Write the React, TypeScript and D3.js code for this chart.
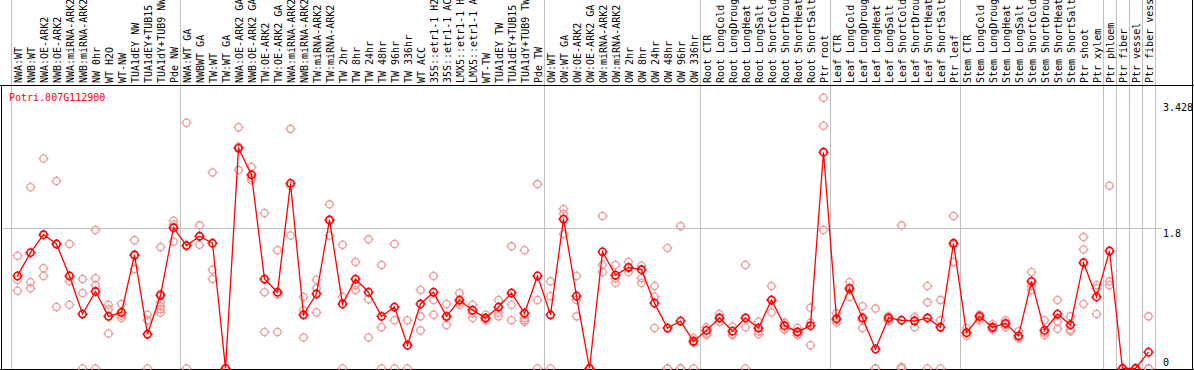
import React from "react";
import * as d3 from "d3";

const categories: string[] = [
  "NWA:WT", "NWB:WT", "NWA:OE-ARK2", "NWB:OE-ARK2", "NWA:miRNA-ARK2", "NWB:miRNA-ARK2", "NW 0hr", "WT H2O", "WT-NW", "TUA1dEY NW", "TUA1dEY+TUB15", "TUA1dY+TUB9 NW", "Pde NW",
  "NWA:WT GA", "NWBWT GA", "TW:WT", "TW:WT GA", "NWA:OE-ARK2 GA", "NWB:OE-ARK2 GA", "TW:OE-ARK2", "TW:OE-ARK2 GA", "NWA:miRNA-ARK2", "NWB:miRNA-ARK2", "TW:miRNA-ARK2", "TW:miRNA-ARK2", "TW 2hr", "TW 8hr", "TW 24hr", "TW 48hr", "TW 96hr", "TW 336hr", "WT ACC", "35S::etr1-1 H2", "35S::etr1-1 AC", "LMX5::etr1-1 H", "LMX5::etr1-1 A", "WT-TW", "TUA1dEY TW", "TUA1dEY+TUB15", "TUA1dY+TUB9 TW", "Pde TW",
  "OW:WT", "OW:WT GA", "OW:OE-ARK2", "OW:OE-ARK2 GA", "OW:miRNA-ARK2", "OW:miRNA-ARK2", "OW 2hr", "OW 8hr", "OW 24hr", "OW 48hr", "OW 96hr", "OW 336hr",
  "Root CTR", "Root LongCold", "Root LongDroug", "Root LongHeat", "Root LongSalt", "Root ShortCold", "Root ShortDrou", "Root ShortHeat", "Root ShortSalt", "Ptr root",
  "Leaf CTR", "Leaf LongCold", "Leaf LongDroug", "Leaf LongHeat", "Leaf LongSalt", "Leaf ShortCold", "Leaf ShortDrou", "Leaf ShortHeat", "Leaf ShortSalt", "Ptr leaf",
  "Stem CTR", "Stem LongCold", "Stem LongDroug", "Stem LongHeat", "Stem LongSalt", "Stem ShortCold", "Stem ShortDrou", "Stem ShortHeat", "Stem ShortSalt", "Ptr shoot", "Ptr xylem", "Ptr phloem", "Ptr fiber", "Ptr vessel", "Ptr fiber vess",
];

// index after which a group separator is drawn (count of categories before it)
const separatorsAfter: number[] = [0, 13, 41, 53, 63, 73, 84, 85, 86, 87, 88];

const means: number[] = [
  1.19, 1.49, 1.72, 1.60, 1.19, 0.70, 0.99, 0.67, 0.72, 1.46, 0.44, 0.94, 1.81,
  1.58, 1.70, 1.61, 0.0, 2.83, 2.49, 1.15, 0.98, 2.38, 0.69, 0.96, 1.91, 0.83, 1.15, 0.98, 0.67, 0.79, 0.30, 0.83, 0.98, 0.67, 0.88, 0.75, 0.65, 0.79, 0.97, 0.71, 1.19,
  0.69, 1.92, 0.93, 0.0, 1.50, 1.20, 1.30, 1.27, 0.84, 0.52, 0.61, 0.35,
  0.49, 0.65, 0.48, 0.65, 0.52, 0.88, 0.55, 0.47, 0.55, 2.78,
  0.64, 1.03, 0.65, 0.25, 0.65, 0.62, 0.61, 0.65, 0.53, 1.61,
  0.46, 0.67, 0.53, 0.58, 0.42, 1.12, 0.49, 0.70, 0.56, 1.36, 0.92, 1.51, 0.0, 0.0, 0.21,
];

const replicates: number[][] = [
  [1.45, 1.14, 1.0], [2.33, 1.11, 1.03], [2.7, 1.29, 1.19], [2.41, 0.79, 1.6], [1.6, 1.12, 0.82], [1.15, 0.97, 0.0], [1.78, 1.16, 1.07, 0.0], [0.82, 0.76, 0.45], [0.83, 0.65, 0.68], [1.65, 1.45, 1.28], [0.69, 0.62, 0.0], [1.56, 0.96, 0.85, 0.8, 0.76, 0.72], [1.9, 1.85, 1.63],
  [3.16, 0.0, 1.58], [1.84, 1.59, 1.7], [2.52, 1.27, 1.15], [0.0, 0.0, 0.0], [3.1, 2.85, 2.55], [2.59, 2.45, 2.42], [2.0, 0.98, 0.47], [1.52, 0.95, 0.47], [3.08, 1.71, 2.35], [0.92, 0.75, 0.4], [1.03, 1.14, 0.72], [2.11, 1.71, 1.9], [1.59, 0.92, 0.0], [1.37, 1.07, 1.01], [1.66, 0.89, 0.4], [1.33, 0.53, 0.0], [1.6, 0.62, 0.0], [0.62, 0.0, 0.3], [1.01, 0.67, 0.49], [1.19, 0.88, 0.69], [0.83, 0.56, 0.65], [0.97, 0.82, 0.85], [0.82, 0.71, 0.65], [0.69, 0.62, 0.64], [0.88, 0.72, 0.67], [1.57, 0.82, 0.62], [1.52, 0.65, 0.6, 0.71, 0.62], [2.37, 0.88, 0.0],
  [1.12, 0.93, 0.0], [2.05, 1.99, 1.73], [1.19, 0.67, 0.88], [0.0, 0.0, 0.0], [1.96, 1.33, 1.24], [1.33, 1.1, 1.16], [1.37, 1.24, 1.29], [1.32, 1.16, 1.1], [1.06, 0.92, 0.52], [1.55, 0.0, 0.0], [1.83, 0.0, 0.0], [0.39, 0.33, 0.0],
  [0.53, 0.45, 0.43], [0.7, 0.6, 0.65], [0.54, 0.44, 0.43], [1.33, 0.53, 0.0], [0.6, 0.48, 0.44], [1.06, 0.72, 0.88], [0.59, 0.5, 0.51], [0.52, 0.43, 0.44], [0.78, 0.59, 0.3], [3.48, 3.12, 1.78],
  [0.71, 0.59, 0.62], [1.11, 0.92, 1.01], [0.8, 0.62, 0.52], [0.77, 0.0, 0.0], [0.67, 0.62, 0.61], [1.84, 0.02, 0.0], [0.66, 0.53, 0.62], [1.06, 0.85, 0.0], [0.88, 0.62, 0.0], [1.96, 1.37, 1.59],
  [0.52, 0.42, 0.46], [0.69, 0.65, 0.62], [0.57, 0.5, 0.51], [0.62, 0.56, 0.53], [0.48, 0.39, 0.39], [1.24, 1.06, 1.01], [0.62, 0.46, 0.43], [0.88, 0.6, 0.51], [0.67, 0.5, 0.48], [1.69, 1.53, 0.83], [1.07, 1.03, 0.7], [2.35, 1.12, 1.07], [0.0, 0.0, 0.0], [0.0, 0.0, 0.0], [0.67, 0.0, 0.0],
];

const yTicks: number[] = [0, 1.8, 3.428];
const yTickLabels: string[] = ["0", "1.8", "3.428"];
const geneId = "Potri.007G112900";

const W = 1194;
const H = 370;
const FONT = "'DejaVu Sans Mono', 'Liberation Mono', monospace";

function Marker({ cx, cy, color, sw }: { cx: number; cy: number; color: string; sw: number }) {
  const r = 3.6;
  const t = 1.4;
  return (
    <g stroke={color} strokeWidth={sw} fill="none">
      <circle cx={cx} cy={cy} r={r} />
      <line x1={cx} y1={cy - r} x2={cx} y2={cy - r - t} />
      <line x1={cx} y1={cy + r} x2={cx} y2={cy + r + t} />
      <line x1={cx - r} y1={cy} x2={cx - r - t} y2={cy} />
      <line x1={cx + r} y1={cy} x2={cx + r + t} y2={cy} />
    </g>
  );
}

export default function App() {
  const left = 11;
  const right = 1155;
  const x = d3
    .scaleBand<number>()
    .domain(categories.map((_, i) => i))
    .range([left, right])
    .paddingInner(0)
    .paddingOuter(0);
  const bw = x.bandwidth();
  const cx = (i: number) => (x(i) as number) + bw / 2;
  const y = d3.scaleLinear().domain([0, 3.428]).range([368.5, 101.8]);
  const sepX = (k: number) => left + k * x.step();

  const line = d3
    .line<number>()
    .x((_, i) => cx(i))
    .y((d) => y(d));

  return (
    <div style={{ position: "absolute", left: 0, top: 0, width: W, height: H, background: "#fff" }}>
      <svg width={W} height={H} style={{ display: "block" }} fontFamily={FONT}>
        <rect x={0} y={0} width={W} height={H} fill="#fff" />
        {/* separators */}
        {separatorsAfter.map((k) => (
          <line key={"s" + k} x1={sepX(k) + 0.5} x2={sepX(k) + 0.5} y1={0} y2={H} stroke="#c0c0c0" strokeWidth={1} />
        ))}
        {/* gridline at 1.8 */}
        <line x1={1} x2={1162} y1={Math.round(y(1.8)) + 0.5} y2={Math.round(y(1.8)) + 0.5} stroke="#c0c0c0" strokeWidth={1} />
        {/* frame */}
        <line x1={0} x2={W} y1={85.5} y2={85.5} stroke="#000" strokeWidth={1} />
        <line x1={1.5} x2={1.5} y1={85} y2={H} stroke="#000" strokeWidth={1} />
        <line x1={1192.5} x2={1192.5} y1={0} y2={H} stroke="#000" strokeWidth={1} />
        <line x1={0} x2={W} y1={369.5} y2={369.5} stroke="#000" strokeWidth={1} />
        {/* category labels */}
        {categories.map((c, i) => (
          <text
            key={"l" + i}
            transform={`translate(${cx(i) + 4},83) rotate(-90)`}
            fontSize={10}
            fill="#000"
            textAnchor="start"
            style={{ whiteSpace: "pre" }}
          >
            {c}
          </text>
        ))}
        {/* title */}
        <text x={9} y={100.5} fontSize={10} fill="#ff0000">
          {geneId}
        </text>
        {/* y labels */}
        {yTicks.map((t, i) => {
          const yy = y(t);
          const base = t === 0 ? 366 : yy + 9;
          return (
            <text key={"y" + i} x={1163} y={base} fontSize={10} fill="#000">
              {yTickLabels[i]}
            </text>
          );
        })}
        {/* replicates */}
        {replicates.map((reps, i) =>
          reps.map((v, j) => <Marker key={`r${i}-${j}`} cx={cx(i)} cy={y(v)} color="#ee9999" sw={1.3} />)
        )}
        {/* mean line */}
        <path d={line(means) || ""} fill="none" stroke="#ff0000" strokeWidth={1.3} />
        {means.map((v, i) => (
          <Marker key={"m" + i} cx={cx(i)} cy={y(v)} color="#ff0000" sw={1.6} />
        ))}
      </svg>
    </div>
  );
}
